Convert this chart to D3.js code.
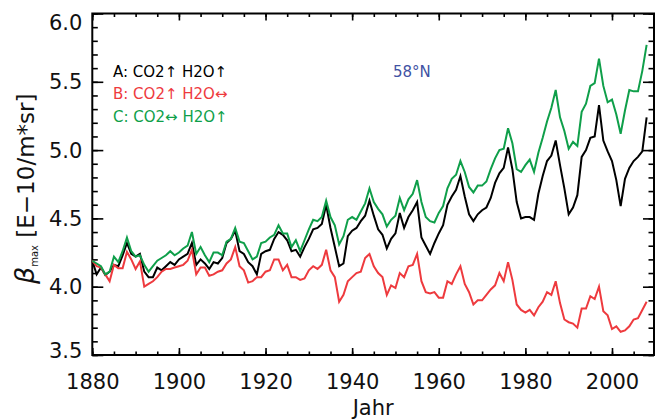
<!DOCTYPE html>
<html><head><meta charset="utf-8">
<script src="https://cdn.jsdelivr.net/npm/d3@7/dist/d3.min.js"></script>
<style>body{margin:0;background:#fff}svg{display:block}</style>
</head><body>
<svg id="c" width="655" height="419"></svg>
<script>
// ---------- data (annual values, 1880 .. 2008) ----------
const startYear = 1880;
const seriesA = [ // black: CO2 up, H2O up
4.19,4.09,4.14,4.085,4.11,4.16,4.15,4.23,4.32,4.24,
4.22,4.24,4.11,4.07,4.07,4.14,4.12,4.15,4.18,4.16,
4.20,4.22,4.24,4.32,4.16,4.20,4.17,4.13,4.18,4.17,
4.21,4.32,4.35,4.41,4.26,4.24,4.18,4.15,4.09,4.24,
4.26,4.27,4.35,4.40,4.38,4.34,4.26,4.27,4.22,4.29,
4.35,4.42,4.43,4.46,4.60,4.43,4.29,4.15,4.17,4.37,
4.41,4.43,4.48,4.52,4.63,4.52,4.42,4.38,4.28,4.35,
4.39,4.54,4.43,4.51,4.56,4.62,4.36,4.30,4.24,4.32,
4.39,4.45,4.60,4.66,4.71,4.81,4.66,4.53,4.48,4.53,
4.56,4.58,4.65,4.76,4.83,4.87,5.02,4.86,4.62,4.50,
4.51,4.51,4.49,4.68,4.81,4.92,4.96,5.07,4.89,4.72,
4.53,4.58,4.67,4.95,5.00,5.09,5.10,5.33,5.07,4.99,
4.92,4.78,4.59,4.79,4.87,4.92,4.95,4.99,5.24];
const seriesB = [ // red: CO2 up, H2O constant
4.19,4.15,4.14,4.09,4.04,4.16,4.135,4.135,4.255,4.20,
4.13,4.185,4.00,4.02,4.04,4.07,4.11,4.13,4.13,4.14,
4.15,4.16,4.19,4.27,4.09,4.14,4.14,4.08,4.09,4.11,
4.12,4.17,4.20,4.29,4.15,4.12,4.03,4.04,4.07,4.07,
4.11,4.12,4.20,4.20,4.12,4.16,4.07,4.07,4.05,4.06,
4.12,4.15,4.13,4.16,4.27,4.12,4.07,3.89,3.94,4.04,
4.07,4.10,4.11,4.21,4.24,4.15,4.10,4.07,3.94,4.01,
3.99,4.10,4.07,4.15,4.16,4.24,4.04,3.96,3.95,3.96,
3.92,3.92,4.04,4.02,4.09,4.15,4.02,3.96,3.87,3.90,
3.90,3.94,3.98,4.01,4.10,4.04,4.18,4.05,3.87,3.83,
3.81,3.83,3.79,3.85,3.89,3.96,3.94,4.04,3.88,3.76,
3.74,3.73,3.70,3.84,3.84,3.93,3.91,4.00,3.82,3.79,
3.69,3.71,3.67,3.68,3.71,3.76,3.77,3.83,3.89];
const seriesC = [ // green: CO2 constant, H2O up
4.19,4.17,4.15,4.09,4.11,4.22,4.18,4.26,4.36,4.26,
4.22,4.23,4.16,4.11,4.15,4.19,4.21,4.23,4.26,4.23,
4.25,4.28,4.30,4.40,4.24,4.29,4.23,4.18,4.25,4.25,
4.23,4.33,4.35,4.43,4.33,4.32,4.26,4.20,4.22,4.32,
4.33,4.36,4.38,4.45,4.39,4.39,4.29,4.34,4.26,4.34,
4.42,4.49,4.48,4.51,4.63,4.51,4.45,4.31,4.37,4.49,
4.51,4.49,4.55,4.61,4.72,4.62,4.57,4.53,4.44,4.49,
4.52,4.65,4.56,4.64,4.68,4.78,4.62,4.51,4.48,4.47,
4.54,4.59,4.72,4.79,4.82,4.92,4.84,4.73,4.69,4.74,
4.74,4.77,4.86,4.94,5.00,5.01,5.16,5.05,4.86,4.84,
4.89,4.93,4.84,4.98,5.09,5.21,5.31,5.44,5.24,5.14,
5.01,5.06,5.03,5.28,5.34,5.47,5.49,5.67,5.47,5.35,
5.37,5.26,5.12,5.29,5.44,5.43,5.43,5.58,5.77];
const xTicks = [1880,1900,1920,1940,1960,1980,2000];
const xMinorTicks = d3.range(1880, 2010, 5);
const yTicks = [3.5,4.0,4.5,5.0,5.5,6.0];
const yMinorTicks = d3.range(35, 61, 1).map(v => v/10);
const legendLabels = ["A: CO2↑ H2O↑", "B: CO2↑ H2O↔", "C: CO2↔ H2O↑"];
const seriesColors = ["#000000", "#ee3a3e", "#0f9f4a"];
const regionLabel = "58°N";
const xTitle = "Jahr";

// ---------- layout ----------
const svg = d3.select("#c");
const L = 92.3, R = 654, T = 13.5, B = 355;
const x = d3.scaleLinear().domain([1880, 2009.7]).range([L, R]);
const y = d3.scaleLinear().domain([3.5, 6.0]).range([B, T]);
const years = seriesA.map((d, i) => startYear + i);
const FONT = "'DejaVu Sans', sans-serif";

function styleAxis(g) {
  g.select(".domain").remove();
  g.selectAll("line").attr("stroke", "#000").attr("stroke-width", 1.6);
  g.selectAll("text").attr("font-family", FONT).attr("font-size", 21).attr("fill", "#111");
}
// minor ticks
svg.append("g").attr("transform", `translate(0,${B})`)
  .call(d3.axisBottom(x).tickValues(xMinorTicks).tickSize(-3.5).tickFormat("")).call(styleAxis);
svg.append("g").attr("transform", `translate(0,${T})`)
  .call(d3.axisTop(x).tickValues(xMinorTicks).tickSize(-3.5).tickFormat("")).call(styleAxis);
svg.append("g").attr("transform", `translate(${L},0)`)
  .call(d3.axisLeft(y).tickValues(yMinorTicks).tickSize(-5.5).tickFormat("")).call(styleAxis);
svg.append("g").attr("transform", `translate(${R},0)`)
  .call(d3.axisRight(y).tickValues(yMinorTicks).tickSize(-5.5).tickFormat("")).call(styleAxis);
// major ticks
svg.append("g").attr("transform", `translate(0,${B})`)
  .call(d3.axisBottom(x).tickValues(xTicks).tickSize(-7).tickPadding(19).tickFormat(d3.format("d"))).call(styleAxis);
svg.append("g").attr("transform", `translate(0,${T})`)
  .call(d3.axisTop(x).tickValues(xTicks).tickSize(-7).tickFormat("")).call(styleAxis);
const yl = svg.append("g").attr("transform", `translate(${L},0)`)
  .call(d3.axisLeft(y).tickValues(yTicks).tickSize(-11).tickPadding(10).tickFormat(d3.format(".1f"))).call(styleAxis);
yl.selectAll(".tick text").attr("dy", d => d === 6 ? "0.75em" : (d === 3.5 ? "0.12em" : "0.34em"));
svg.append("g").attr("transform", `translate(${R},0)`)
  .call(d3.axisRight(y).tickValues(yTicks).tickSize(-11).tickFormat("")).call(styleAxis);

// frame
svg.append("rect").attr("x", L).attr("y", T).attr("width", R - L).attr("height", B - T)
  .attr("fill", "none").attr("stroke", "#000").attr("stroke-width", 2);

// lines
const line = d3.line().x((d, i) => x(years[i])).y(d => y(d));
[seriesA, seriesB, seriesC].forEach((s, k) => {
  svg.append("path").datum(s).attr("d", line).attr("fill", "none")
    .attr("stroke", seriesColors[k]).attr("stroke-width", 2).attr("stroke-linejoin", "miter");
});

// legend text
legendLabels.forEach((t, k) => {
  svg.append("text").attr("x", 113).attr("y", 76.7 + k * 22.5)
    .attr("font-family", FONT).attr("font-size", 15).attr("fill", seriesColors[k]).text(t);
});
svg.append("text").attr("x", 393).attr("y", 76.7).attr("font-family", FONT).attr("font-size", 15)
  .attr("fill", "#4152a3").text(regionLabel);

// axis titles
svg.append("text").attr("x", (L + R) / 2).attr("y", 415).attr("text-anchor", "middle")
  .attr("font-family", FONT).attr("font-size", 21).attr("fill", "#111").text(xTitle);
const yt = svg.append("text").attr("transform", "translate(34,284) rotate(-90)")
  .attr("font-family", FONT).attr("fill", "#111");
yt.append("tspan").attr("font-size", 27).attr("font-style", "italic").text("β");
yt.append("tspan").attr("font-size", 10).attr("dy", 4).text("max");
yt.append("tspan").attr("font-size", 23).attr("dy", -4).text(" [E\u221210/m*sr]");
</script>
</body></html>
